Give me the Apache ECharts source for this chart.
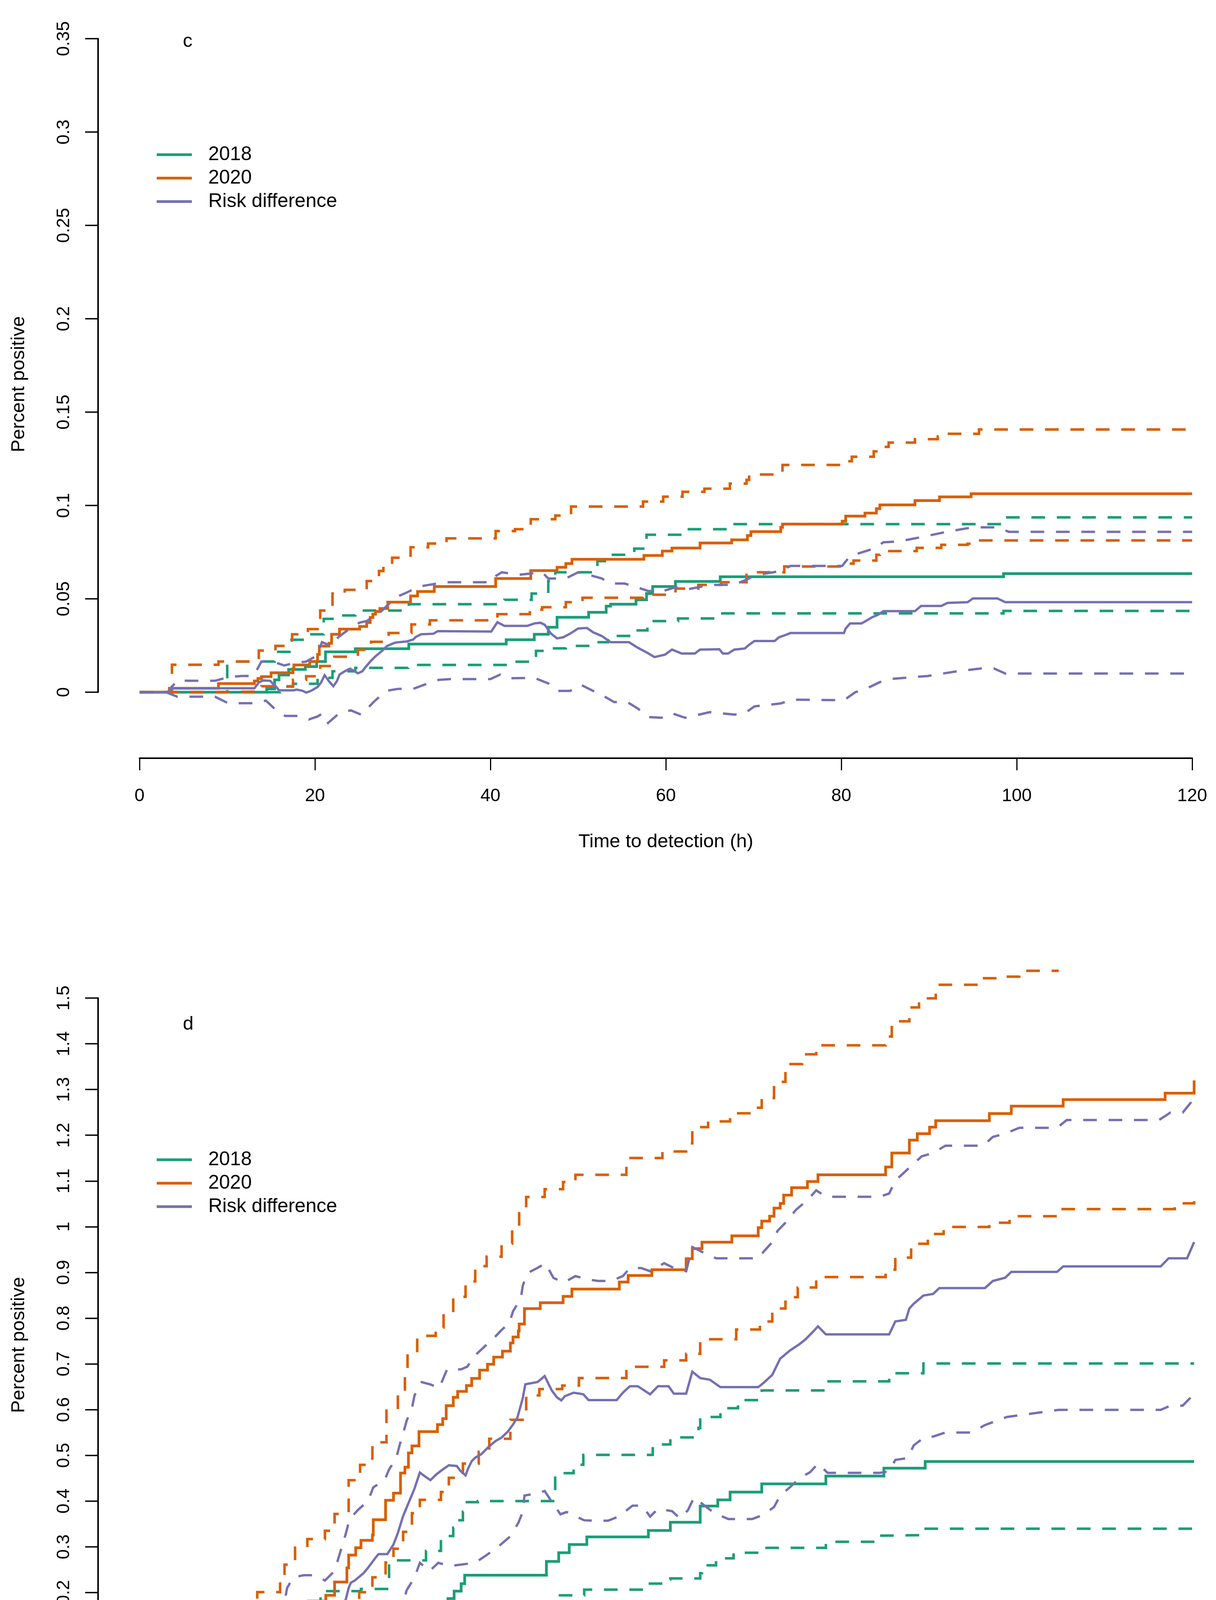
<!DOCTYPE html>
<html>
<head>
<meta charset="utf-8">
<script src="https://cdn.jsdelivr.net/npm/echarts@6/dist/echarts.min.js"></script>
<style>
html,body{margin:0;padding:0;background:#ffffff;}
#chart{width:3112px;height:4671px;}
</style>
</head>
<body>
<div id="chart"></div>
<script>
// ---------- text and ticks ----------
const panelLabels = ['c', 'd'];
const legendNames = ['2018', '2020', 'Risk difference'];
const xTitle = 'Time to detection (h)';
const yTitle = 'Percent positive';
const xTicks = [0, 20, 40, 60, 80, 100, 120];
const cYTicks = [0, 0.05, 0.1, 0.15, 0.2, 0.25, 0.3, 0.35];
const dYTicks = [0, 0.1, 0.2, 0.3, 0.4, 0.5, 0.6, 0.7, 0.8, 0.9, 1, 1.1, 1.2, 1.3, 1.4, 1.5];

// ---------- panel c ----------
const c2018 = [[0,0],[14.5,0.0018],[15.4,0.0066],[15.9,0.0092],[17.0,0.0122],[18.9,0.0137],[20.2,0.0164],[21.2,0.0216],[24.6,0.0233],[30.7,0.0258],[41.8,0.0281],[45.0,0.031],[46.6,0.0348],[47.6,0.0401],[51.2,0.0428],[53.2,0.0461],[53.7,0.0471],[56.6,0.0495],[57.8,0.0528],[58.5,0.0566],[61.1,0.0593],[66.2,0.0618],[98.5,0.0635],[120,0.0635]];
const c2018Hi = [[0,0],[10.0,0.0164],[15.4,0.0216],[17.1,0.0281],[19.0,0.031],[21.0,0.0393],[22.3,0.0411],[24.6,0.0437],[30.7,0.0471],[41.6,0.0495],[44.7,0.0528],[46.6,0.0595],[47.4,0.0642],[52.2,0.0702],[53.4,0.0736],[56.4,0.0769],[57.8,0.0843],[62.1,0.0873],[67.4,0.09],[98.6,0.0936],[120,0.0936]];
const c2018Lo = [[0,0],[16.0,0.003],[17.5,0.0045],[20.3,0.0077],[22.0,0.0112],[24.6,0.013],[30.6,0.0146],[42.0,0.0163],[45.2,0.0221],[46.6,0.0235],[48.6,0.0248],[51.5,0.0268],[53.4,0.0301],[56.4,0.0331],[57.9,0.0381],[61.4,0.0395],[66.0,0.0422],[98.5,0.0435],[120,0.0435]];
const c2020 = [[0,0],[3.4,0.0021],[9.0,0.0046],[13.1,0.006],[13.5,0.0073],[13.9,0.0083],[15.0,0.0104],[17.5,0.0125],[17.6,0.0146],[19.4,0.0164],[20.3,0.0202],[20.5,0.0247],[21.6,0.0262],[21.9,0.031],[22.8,0.0338],[25.1,0.0352],[25.9,0.0373],[26.3,0.04],[26.6,0.0418],[26.9,0.0432],[27.4,0.0448],[28.3,0.0482],[30.9,0.0515],[31.7,0.0539],[33.6,0.0566],[40.6,0.0609],[44.6,0.0651],[47.6,0.0669],[48.6,0.0689],[49.3,0.0712],[57.5,0.0732],[59.6,0.0756],[60.7,0.0772],[63.9,0.0799],[67.5,0.0816],[69.3,0.0839],[69.7,0.086],[73.1,0.0883],[73.3,0.09],[80.1,0.0916],[80.5,0.0943],[82.7,0.0959],[84.0,0.0983],[84.4,0.1003],[88.4,0.1026],[91.2,0.1046],[94.8,0.1063],[120,0.1063]];
const c2020Hi = [[0,0],[3.7,0.0147],[9.0,0.0164],[13.6,0.0223],[15.5,0.0248],[17.4,0.031],[19.2,0.0338],[20.3,0.0344],[20.6,0.0437],[22.0,0.0528],[23.4,0.0548],[25.9,0.0595],[27.3,0.0649],[27.8,0.0682],[28.8,0.072],[30.9,0.0776],[32.9,0.0796],[35.0,0.0824],[40.6,0.0863],[42.8,0.0873],[44.6,0.0926],[47.4,0.0946],[49.2,0.0994],[57.4,0.1021],[59.7,0.1047],[61.9,0.1073],[64.4,0.109],[67.3,0.1117],[69.2,0.1137],[69.5,0.1166],[73.3,0.1217],[80.1,0.1237],[81.2,0.1261],[83.7,0.129],[84.0,0.1314],[85.4,0.1337],[88.4,0.1355],[91.0,0.137],[91.2,0.1384],[95.7,0.1407],[120,0.1407]];
const c2020Lo = [[0,0],[9.2,0.0004],[13.9,0.0032],[17.5,0.0066],[19.0,0.0085],[20.6,0.014],[22.2,0.019],[24.9,0.0227],[26.4,0.027],[28.4,0.0317],[31.0,0.0363],[33.1,0.0385],[40.8,0.0418],[44.5,0.0442],[45.9,0.0455],[48.6,0.0482],[50.5,0.0506],[57.4,0.0522],[61.1,0.0555],[63.7,0.0575],[66.3,0.0589],[69.2,0.0628],[69.5,0.0642],[73.5,0.0673],[80.2,0.0689],[81.4,0.0705],[84.0,0.0736],[84.4,0.0756],[88.6,0.0773],[91.4,0.0789],[94.4,0.0795],[94.8,0.0813],[120,0.0813]];
const cDiff = [[0,0],[3.2,0],[3.7,0.0021],[13.1,0.0021],[13.6,0.0052],[14.1,0.0063],[14.9,0.0061],[15.2,0.0045],[15.6,0.0028],[15.9,0.001],[17.6,0.001],[17.9,0.0014],[18.6,0.0007],[19.0,-0.0002],[19.4,0.0004],[19.8,0.0014],[20.3,0.0028],[20.7,0.0052],[21.1,0.0091],[21.6,0.0059],[22.1,0.0032],[22.5,0.0059],[22.8,0.0094],[23.4,0.0112],[24.0,0.0126],[24.4,0.0115],[24.9,0.0101],[25.4,0.0112],[25.8,0.0136],[26.3,0.0164],[26.9,0.0192],[27.7,0.0223],[28.2,0.0247],[28.9,0.0261],[29.2,0.0266],[30.5,0.0272],[31.2,0.0282],[31.5,0.0296],[32.1,0.031],[33.5,0.0313],[34.0,0.0327],[40.1,0.0325],[40.8,0.0375],[41.6,0.0355],[44.2,0.0355],[45.0,0.0368],[45.7,0.0372],[46.2,0.0361],[46.9,0.0314],[47.6,0.0288],[48.3,0.0294],[49.1,0.0314],[50.0,0.0341],[51.0,0.0344],[51.7,0.0321],[52.7,0.0301],[53.7,0.0268],[55.8,0.0268],[56.7,0.0241],[58.0,0.0208],[58.7,0.0188],[59.9,0.0201],[60.7,0.0228],[61.4,0.0215],[61.8,0.0207],[63.3,0.0207],[63.9,0.0228],[66.1,0.023],[66.5,0.0207],[67.1,0.0207],[67.8,0.0228],[69.0,0.0234],[69.5,0.0254],[70.1,0.0274],[72.4,0.0274],[72.9,0.0294],[73.7,0.0307],[74.2,0.0317],[80.3,0.0317],[80.5,0.0341],[81.0,0.0368],[82.3,0.0368],[82.9,0.0384],[83.5,0.0401],[84.2,0.0415],[84.8,0.0434],[88.4,0.0434],[89.1,0.0462],[91.4,0.0462],[92.1,0.0478],[94.4,0.0482],[95.0,0.0502],[97.8,0.0502],[98.7,0.0482],[120,0.0482]];
const cDiffHi = [[0,0],[3.2,0],[4.3,0.0063],[5.7,0.0061],[8.6,0.0061],[10.1,0.008],[11.6,0.0087],[13.0,0.0087],[13.9,0.0164],[15.2,0.0164],[16.5,0.0143],[17.7,0.0157],[19.0,0.0164],[20.2,0.0195],[20.8,0.0268],[21.9,0.0248],[22.7,0.0296],[23.7,0.0331],[25.1,0.0373],[25.9,0.0381],[27.6,0.0435],[29.2,0.0508],[30.2,0.0528],[31.9,0.0566],[34.8,0.0589],[40.0,0.0589],[40.6,0.0622],[41.3,0.0642],[43.3,0.0629],[45.9,0.0642],[46.6,0.0609],[48.6,0.0609],[50.0,0.0642],[51.2,0.0629],[52.7,0.0609],[53.7,0.0582],[55.3,0.0582],[56.7,0.0562],[58.0,0.0542],[59.7,0.0542],[61.1,0.0562],[62.2,0.0549],[65.2,0.0575],[67.8,0.0575],[69.5,0.0609],[70.1,0.0625],[73.1,0.0649],[74.2,0.0676],[80.1,0.0676],[81.0,0.0729],[83.7,0.0769],[84.8,0.0803],[86.5,0.0807],[89.3,0.0832],[92.1,0.086],[95.0,0.0883],[97.8,0.0883],[99.1,0.0859],[120,0.0859]];
const cDiffLo = [[0,0],[3.0,0],[4.3,-0.0024],[8.6,-0.0024],[10.1,-0.0059],[13.2,-0.0059],[14.4,-0.0045],[15.6,-0.0097],[16.6,-0.0127],[18.2,-0.0127],[19.3,-0.0146],[20.3,-0.013],[20.9,-0.0113],[21.5,-0.0165],[22.8,-0.0111],[24.1,-0.0097],[25.3,-0.0121],[26.7,-0.0052],[28.1,0.0007],[29.5,0.0018],[31.2,0.0018],[32.4,0.0039],[34.1,0.0066],[35.4,0.007],[40.0,0.007],[41.1,0.0094],[41.8,0.0074],[45.0,0.0077],[46.6,0.0047],[47.6,0.0007],[49.1,0.0007],[50.3,0.004],[51.7,0.0007],[52.9,-0.002],[54.1,-0.0053],[55.6,-0.0053],[56.8,-0.0087],[58.0,-0.0133],[59.5,-0.0137],[60.7,-0.0113],[62.2,-0.0137],[65.0,-0.0107],[66.3,-0.0113],[67.8,-0.012],[69.0,-0.0113],[70.1,-0.0076],[73.1,-0.006],[74.4,-0.004],[80.3,-0.0043],[81.6,0.0],[82.9,0.002],[84.4,0.0054],[85.7,0.0071],[89.9,0.0087],[92.9,0.011],[95.9,0.0127],[97.4,0.0127],[98.7,0.01],[120,0.01]];

// ---------- panel d ----------
const d2018 = [[0,0],[3.1,0.003],[9.2,0.0202],[17.1,0.0341],[18.1,0.0503],[19.2,0.0688],[20.6,0.0874],[26.5,0.105],[28.6,0.136],[32.3,0.1545],[34.4,0.1707],[35.1,0.1869],[35.8,0.2031],[36.6,0.2193],[37.0,0.2378],[46.3,0.268],[47.7,0.287],[48.9,0.305],[50.9,0.3217],[57.9,0.3358],[60.4,0.3537],[63.8,0.389],[65.8,0.4025],[67.2,0.4196],[70.8,0.4376],[78.1,0.4547],[84.7,0.4719],[89.4,0.4864],[120,0.4864]];
const d2018Hi = [[0,0],[3.1,0.015],[9.2,0.1221],[17.4,0.1383],[18.1,0.1452],[19.2,0.1568],[19.8,0.1684],[20.6,0.2031],[25.2,0.2077],[28.4,0.2703],[32.6,0.2911],[34.3,0.312],[34.9,0.3235],[35.7,0.342],[36.2,0.3582],[36.8,0.3767],[37.1,0.3976],[38.5,0.3999],[46.5,0.3999],[47.3,0.461],[49.4,0.4795],[50.5,0.5011],[58.4,0.5238],[60.4,0.5393],[63.6,0.56],[63.8,0.5839],[66.1,0.603],[68.1,0.6208],[70.8,0.642],[78.0,0.6618],[85.3,0.6795],[89.2,0.7008],[120,0.7008]];
const d2018Lo = [[0,0],[9.2,0.0063],[17.9,0.0179],[19.8,0.0272],[20.6,0.0364],[21.5,0.0387],[27.5,0.0503],[29.3,0.0698],[32.1,0.0804],[34.3,0.0943],[35.7,0.1128],[36.2,0.1198],[37.0,0.143],[46.5,0.143],[46.8,0.157],[47.0,0.178],[47.7,0.194],[50.6,0.2062],[57.9,0.2195],[59.5,0.229],[60.4,0.2309],[63.8,0.2424],[64.0,0.2595],[65.6,0.271],[65.8,0.2748],[67.6,0.287],[70.8,0.2977],[78.1,0.311],[84.0,0.3243],[84.7,0.3255],[89.2,0.3396],[120,0.3396]];
const d2020 = [[0,0],[3.1,0.004],[9.2,0.0318],[13.55,0.0897],[16.1,0.1221],[16.5,0.136],[17.2,0.1499],[17.7,0.1661],[19.2,0.1813],[21.2,0.1938],[22.2,0.223],[23.6,0.254],[23.8,0.2818],[24.6,0.298],[25.2,0.3142],[26.5,0.3258],[26.6,0.3591],[28.0,0.4017],[28.9,0.4172],[29.7,0.4612],[30.2,0.474],[30.6,0.5052],[31.0,0.5207],[31.8,0.5518],[33.9,0.5673],[34.5,0.5802],[34.9,0.6087],[35.7,0.6268],[36.2,0.6397],[37.2,0.6527],[37.8,0.6682],[38.7,0.6863],[39.6,0.6992],[40.3,0.7148],[41.3,0.7277],[42.2,0.7458],[42.5,0.7587],[43.1,0.7717],[43.2,0.7872],[43.8,0.8208],[45.6,0.8338],[48.2,0.8477],[49.2,0.8636],[54.6,0.879],[55.6,0.8933],[58.3,0.906],[62.2,0.93],[62.9,0.952],[64.0,0.9662],[67.4,0.98],[70.4,0.998],[70.8,1.0123],[71.7,1.023],[72.2,1.0406],[72.9,1.051],[73.3,1.069],[74.2,1.0852],[76.0,1.0987],[77.2,1.1135],[84.9,1.1305],[85.6,1.161],[87.6,1.1893],[88.5,1.2034],[89.9,1.2176],[90.6,1.2318],[96.7,1.2473],[99.2,1.2636],[105.1,1.2778],[116.7,1.292],[120,1.32]];
const d2020Hi = [[0,0],[3.8,0.108],[9.0,0.122],[13.1,0.166],[13.4,0.201],[16.0,0.226],[16.5,0.261],[17.7,0.298],[19.1,0.317],[21.1,0.335],[22.2,0.3717],[23.8,0.4457],[25.1,0.4793],[26.5,0.5285],[28.1,0.6009],[29.4,0.6371],[30.2,0.6759],[30.5,0.7225],[31.6,0.7613],[33.7,0.7794],[34.6,0.813],[35.7,0.8467],[37.1,0.8803],[38.2,0.9139],[39.5,0.9346],[41.2,0.9631],[42.4,0.9993],[43.2,1.0381],[44.0,1.065],[46.1,1.0821],[48.2,1.0976],[49.6,1.1135],[55.4,1.1503],[59.5,1.1645],[62.2,1.1822],[62.9,1.2176],[64.7,1.2303],[67.2,1.248],[69.7,1.2601],[70.8,1.2813],[72.2,1.3167],[73.5,1.3557],[75.4,1.3769],[77.0,1.3967],[84.9,1.4158],[85.6,1.4491],[87.6,1.4796],[88.7,1.4994],[90.6,1.5291],[95.8,1.5433],[98.1,1.5468],[100.1,1.5596],[104.6,1.5596]];
const d2020Lo = [[0,0],[3.3,0.004],[9.0,0.0063],[13.0,0.011],[13.55,0.0411],[15.5,0.0573],[17.0,0.0804],[18.7,0.099],[21.1,0.1138],[22.4,0.136],[23.6,0.173],[25.0,0.2008],[26.5,0.2332],[28.0,0.2656],[28.9,0.2957],[30.0,0.3328],[31.0,0.3735],[31.9,0.4028],[34.3,0.4198],[35.2,0.4509],[36.8,0.4819],[38.6,0.5078],[39.8,0.5362],[42.2,0.5776],[44.0,0.631],[45.5,0.6449],[48.1,0.6527],[50.0,0.669],[55.4,0.6937],[59.7,0.7078],[62.2,0.722],[63.8,0.7539],[67.9,0.7751],[70.6,0.7928],[72.0,0.8211],[73.5,0.8459],[74.9,0.8671],[77.0,0.8898],[84.9,0.9061],[86.0,0.9323],[87.8,0.9627],[89.7,0.984],[91.5,0.9995],[96.7,1.0087],[99.0,1.0229],[104.6,1.0385],[117.8,1.0512],[120,1.0689]];
const dDiff = [[0,0],[3.1,0],[4.05,0.018],[12.4,0.018],[13.55,0.0295],[14.1,0.0767],[16.1,0.0767],[17.0,0.1221],[18.1,0.1383],[19.0,0.1221],[20.1,0.1221],[21.1,0.1036],[22.1,0.1151],[22.8,0.1476],[23.5,0.187],[23.8,0.2101],[24.05,0.2216],[24.5,0.2263],[25.5,0.2425],[26.0,0.2541],[26.9,0.2772],[27.2,0.2841],[28.2,0.2841],[28.9,0.305],[29.4,0.3304],[30.0,0.3675],[30.6,0.3953],[31.3,0.4277],[31.9,0.4624],[32.3,0.4564],[33.1,0.4457],[33.8,0.4586],[34.5,0.469],[35.2,0.4783],[36.1,0.4767],[36.5,0.4664],[37.1,0.4561],[37.4,0.4716],[37.8,0.4871],[38.2,0.4949],[38.9,0.5026],[39.7,0.5181],[40.5,0.5311],[41.2,0.5388],[41.9,0.5518],[42.5,0.5673],[43.0,0.5828],[43.3,0.6035],[43.6,0.6242],[43.9,0.6553],[45.3,0.6604],[46.1,0.6734],[46.4,0.6618],[46.9,0.6423],[47.5,0.6268],[48.0,0.6201],[48.4,0.6294],[49.4,0.637],[50.5,0.6335],[51.1,0.6208],[54.3,0.6208],[55.0,0.637],[55.8,0.6512],[56.7,0.6512],[58.1,0.6335],[59.0,0.6512],[60.2,0.6512],[60.8,0.6349],[62.2,0.6349],[62.9,0.683],[63.8,0.6689],[64.9,0.6654],[66.1,0.6491],[70.4,0.6491],[71.0,0.6583],[72.0,0.676],[72.9,0.7114],[74.0,0.7291],[75.1,0.7432],[75.8,0.7539],[76.7,0.7716],[77.2,0.7822],[78.1,0.7645],[85.3,0.7645],[86.0,0.7928],[87.2,0.7963],[87.6,0.8211],[88.1,0.8317],[89.2,0.8494],[90.3,0.853],[91.0,0.8657],[96.2,0.8657],[97.1,0.8813],[98.5,0.8884],[99.2,0.9011],[104.4,0.9011],[105.1,0.9132],[116.2,0.9132],[117.1,0.9309],[119.2,0.9309],[119.6,0.9486],[120,0.9663]];
const dDiffHi = [[0,0],[3.1,0],[3.8,0.0295],[4.8,0.0457],[9.3,0.0457],[10.1,0.0712],[11.7,0.0712],[12.7,0.0827],[13.4,0.1082],[13.55,0.1406],[14.4,0.1591],[16.0,0.1545],[16.5,0.18],[16.8,0.2101],[17.5,0.2332],[18.7,0.2378],[19.9,0.2378],[21.1,0.2263],[22.2,0.2471],[23.5,0.3304],[23.9,0.3605],[24.9,0.3814],[26.0,0.3999],[26.6,0.43],[27.9,0.4462],[28.4,0.4693],[29.2,0.4925],[29.6,0.5226],[30.0,0.548],[30.4,0.5758],[31.0,0.6036],[31.3,0.6314],[32.1,0.66],[33.1,0.655],[34.1,0.647],[35.0,0.688],[36.6,0.688],[37.3,0.694],[38.1,0.717],[39.1,0.735],[40.2,0.754],[41.2,0.774],[42.1,0.79],[42.5,0.815],[43.4,0.844],[43.6,0.87],[44.1,0.898],[45.3,0.91],[46.2,0.92],[47.1,0.888],[48.3,0.878],[49.6,0.892],[50.9,0.885],[52.2,0.8813],[53.7,0.8813],[55.0,0.8919],[55.8,0.9096],[57.1,0.9096],[58.1,0.9026],[59.7,0.9202],[60.8,0.9096],[62.2,0.9026],[62.9,0.9556],[64.0,0.945],[65.6,0.9309],[70.4,0.9309],[71.0,0.945],[72.0,0.9663],[72.6,0.991],[73.5,1.0087],[74.7,1.037],[76.0,1.0583],[77.0,1.0795],[78.1,1.0654],[84.2,1.0654],[85.3,1.0725],[86.0,1.1008],[87.2,1.122],[87.8,1.1327],[89.0,1.1539],[90.3,1.161],[91.7,1.1772],[96.0,1.1772],[97.1,1.1964],[98.5,1.2034],[100.1,1.2162],[104.4,1.2162],[105.5,1.2332],[116.0,1.2332],[117.3,1.2495],[118.7,1.2495],[119.6,1.2707],[120,1.2884]];
const dDiffLo = [[0,0],[3.1,0],[4.0,-0.0098],[8.0,-0.0098],[9.0,-0.012],[10.0,-0.026],[11.6,-0.0353],[13.0,-0.0353],[13.55,-0.019],[14.4,0.0017],[16.0,-0.0006],[16.5,0.018],[18.1,0.034],[18.9,0.013],[20.1,-0.0006],[21.1,-0.0214],[22.2,-0.0075],[23.1,0.016],[23.5,0.046],[24.05,0.071],[25.0,0.09],[26.5,0.108],[27.5,0.124],[28.6,0.117],[29.3,0.152],[30.0,0.177],[30.4,0.205],[31.3,0.233],[31.9,0.265],[33.0,0.247],[34.0,0.265],[35.3,0.258],[38.2,0.265],[39.5,0.282],[40.8,0.3],[42.2,0.323],[43.1,0.352],[43.6,0.376],[43.8,0.412],[45.2,0.417],[46.1,0.422],[47.0,0.396],[47.9,0.371],[48.6,0.376],[50.6,0.358],[51.8,0.357],[53.3,0.357],[54.5,0.366],[56.1,0.39],[57.2,0.39],[58.1,0.366],[59.0,0.383],[60.6,0.378],[61.5,0.362],[62.4,0.38],[63.1,0.408],[64.5,0.387],[65.4,0.374],[67.0,0.3606],[69.7,0.3606],[71.0,0.37],[72.2,0.387],[72.9,0.412],[74.0,0.43],[75.1,0.45],[76.3,0.463],[77.2,0.482],[78.3,0.4616],[84.2,0.4616],[85.3,0.465],[86.0,0.49],[87.4,0.494],[88.1,0.522],[89.2,0.538],[90.3,0.541],[91.7,0.55],[94.7,0.55],[96.2,0.5662],[98.7,0.5839],[104.6,0.5995],[116.2,0.5995],[117.3,0.6087],[118.7,0.6087],[119.6,0.6264],[120,0.63]];

// ---------- styling ----------
const FONT = "'Liberation Sans', Arial, sans-serif";
const GREEN = '#1B9E77', ORANGE = '#D95F02', PURPLE = '#7570B3';
const DASH = [35, 30];

function ser(name, data, color, dashed, step, idx, width) {
  return {
    type: 'line', name: name, data: data,
    xAxisIndex: idx, yAxisIndex: idx,
    step: step ? 'end' : false,
    symbol: 'none', showSymbol: false, clip: false, silent: true, animation: false,
    lineStyle: { color: color, width: width, type: dashed ? DASH : 'solid', cap: 'butt', join: 'miter' },
    itemStyle: { color: color }
  };
}

function fmt(v) { return String(parseFloat(Number(v).toFixed(2))); }

function xAxisFor(idx, offset) {
  return {
    gridIndex: idx, type: 'value', position: 'bottom', offset: offset,
    min: xTicks[0], max: xTicks[xTicks.length - 1], interval: xTicks[1] - xTicks[0],
    axisLine: { show: true, onZero: false, lineStyle: { color: '#000', width: 4 } },
    axisTick: { show: true, length: 31, lineStyle: { color: '#000', width: 3 } },
    axisLabel: { margin: 74, fontSize: 46, color: '#000', fontFamily: FONT, formatter: fmt },
    splitLine: { show: false },
    name: xTitle, nameLocation: 'middle', nameGap: 190,
    nameTextStyle: { fontSize: 49, color: '#000', fontFamily: FONT }
  };
}

function yAxisFor(idx, ticks, namePad) {
  return {
    gridIndex: idx, type: 'value', position: 'left', offset: 106,
    min: ticks[0], max: ticks[ticks.length - 1], interval: ticks[1] - ticks[0],
    axisLine: { show: true, onZero: false, lineStyle: { color: '#000', width: 4 } },
    axisTick: { show: true, length: 33, lineStyle: { color: '#000', width: 3.5 } },
    axisLabel: { rotate: 90, margin: 64, fontSize: 46, color: '#000', fontFamily: FONT, formatter: fmt },
    splitLine: { show: false },
    name: yTitle, nameLocation: 'middle', nameGap: 178, nameRotate: 90,
    nameTextStyle: { fontSize: 49, color: '#000', fontFamily: FONT, padding: namePad }
  };
}

function legendFor(top) {
  return {
    data: legendNames, orient: 'vertical', left: 401, top: top, padding: 0,
    icon: 'rect', itemWidth: 90, itemHeight: 7, itemGap: 10, selectedMode: false,
    itemStyle: { borderWidth: 0 },
    textStyle: { fontSize: 50, color: '#000', fontFamily: FONT, padding: [0, 0, 0, 37] }
  };
}

const option = {
  backgroundColor: '#ffffff',
  animation: false,
  title: [
    { text: panelLabels[0], left: 468, top: 82, padding: 0, textStyle: { fontSize: 49, fontWeight: 'normal', color: '#000', fontFamily: FONT } },
    { text: panelLabels[1], left: 468, top: 2598, padding: 0, textStyle: { fontSize: 49, fontWeight: 'normal', color: '#000', fontFamily: FONT } }
  ],
  legend: [legendFor(371), legendFor(2944)],
  grid: [
    { left: 357, top: 99, width: 2694, height: 1673 },
    { left: 357, top: 2555, width: 2699, height: 1756 }
  ],
  xAxis: [xAxisFor(0, 169), xAxisFor(1, 93)],
  yAxis: [yAxisFor(0, cYTicks, [0, 96, 0, 0]), yAxisFor(1, dYTicks, [0, 20, 0, 0])],
  series: [
    ser(legendNames[0], c2018, GREEN, false, true, 0, 7),
    ser('2018 upper', c2018Hi, GREEN, true, true, 0, 6.5),
    ser('2018 lower', c2018Lo, GREEN, true, true, 0, 6.5),
    ser(legendNames[1], c2020, ORANGE, false, true, 0, 7),
    ser('2020 upper', c2020Hi, ORANGE, true, true, 0, 6.5),
    ser('2020 lower', c2020Lo, ORANGE, true, true, 0, 6.5),
    ser(legendNames[2], cDiff, PURPLE, false, false, 0, 6),
    ser('Risk difference upper', cDiffHi, PURPLE, true, false, 0, 6),
    ser('Risk difference lower', cDiffLo, PURPLE, true, false, 0, 6),

    ser(legendNames[0], d2018, GREEN, false, true, 1, 7),
    ser('2018 upper', d2018Hi, GREEN, true, true, 1, 6.5),
    ser('2018 lower', d2018Lo, GREEN, true, true, 1, 6.5),
    ser(legendNames[1], d2020, ORANGE, false, true, 1, 7),
    ser('2020 upper', d2020Hi, ORANGE, true, true, 1, 6.5),
    ser('2020 lower', d2020Lo, ORANGE, true, true, 1, 6.5),
    ser(legendNames[2], dDiff, PURPLE, false, false, 1, 6),
    ser('Risk difference upper', dDiffHi, PURPLE, true, false, 1, 6),
    ser('Risk difference lower', dDiffLo, PURPLE, true, false, 1, 6)
  ]
};

const chart = echarts.init(document.getElementById('chart'), null, { renderer: 'canvas', width: 3112, height: 4671 });
chart.setOption(option);
</script>
</body>
</html>
